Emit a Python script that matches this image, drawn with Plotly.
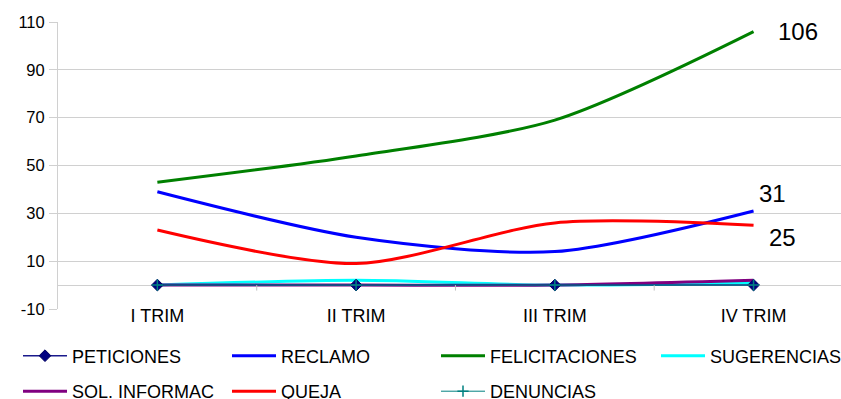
import plotly.graph_objects as go

# Quarterly counts by request type
trimestres = ["I TRIM", "II TRIM", "III TRIM", "IV TRIM"]
peticiones = [0, 0, 0, 0]
reclamo = [39, 20, 14, 31]
felicitaciones = [43, 54, 69, 106]
sugerencias = [0, 2, 0, 1]
sol_informac = [0, 0, 0, 2]
queja = [23, 9, 26, 25]
denuncias = [0, 0, 0, 0]

# value axis ticks
y_ticks = [-10, 10, 30, 50, 70, 90, 110]
y_tick_text = ["-10", "10", "30", "50", "70", "90", "110"]

FONT = "Liberation Sans"
GRID = "#d0d0d0"

fig = go.Figure()


def smooth_line(name, values, color, width, rank, legend):
    fig.add_trace(go.Scatter(
        x=trimestres, y=values, name=name, mode="lines",
        line=dict(color=color, width=width, shape="spline", smoothing=0.8),
        legendrank=rank, legend=legend, hoverinfo="x+y+name",
    ))


# thick smoothed series first, marker series on top
smooth_line("RECLAMO", reclamo, "#0000ff", 3, 2, "legend")
smooth_line("FELICITACIONES", felicitaciones, "#008000", 3, 3, "legend")
smooth_line("SUGERENCIAS", sugerencias, "#00ffff", 3, 4, "legend3")
smooth_line("SOL. INFORMAC", sol_informac, "#800080", 3, 5, "legend2")
smooth_line("QUEJA", queja, "#ff0000", 3, 6, "legend2")

fig.add_trace(go.Scatter(
    x=trimestres, y=peticiones, name="PETICIONES", mode="lines+markers",
    line=dict(color="#1a1a8c", width=1.5),
    marker=dict(symbol="diamond", size=9, color="#000080",
                line=dict(color="#000060", width=1)),
    legendrank=1, legend="legend",
))
fig.add_trace(go.Scatter(
    x=trimestres, y=denuncias, name="DENUNCIAS", mode="lines+markers",
    line=dict(color="#008080", width=1),
    marker=dict(symbol="cross-thin", size=8,
                line=dict(color="#008080", width=1.5)),
    legendrank=7, legend="legend2",
))

# end-of-series value labels
for vals, xs, ys in [(felicitaciones, 22, 0), (reclamo, 3, 17), (queja, 13, -12)]:
    fig.add_annotation(
        x=trimestres[-1], y=vals[-1], text=str(vals[-1]), showarrow=False,
        xanchor="left", yanchor="middle", xshift=xs, yshift=ys,
        font=dict(family=FONT, size=24, color="#000000"),
    )

# small category-boundary ticks hanging from the zero line
for b in [0.5, 1.5, 2.5]:
    fig.add_shape(type="line", xref="x", yref="y", x0=b, x1=b, y0=0, y1=-2.3,
                  line=dict(color="#c0c0c0", width=1))

legend_common = dict(
    orientation="h", xref="container", yref="container",
    xanchor="left", yanchor="middle",
    font=dict(family=FONT, size=18, color="#000000"),
    itemwidth=44, entrywidth=150, entrywidthmode="pixels",
    bgcolor="rgba(0,0,0,0)", borderwidth=0, traceorder="normal",
    itemclick=False, itemdoubleclick=False,
)

row1_y = (399 - 356) / 399
row2_y = (399 - 391.5) / 399

fig.update_layout(
    width=841, height=399,
    margin=dict(l=58, r=0, t=22, b=90, autoexpand=False),
    paper_bgcolor="#ffffff", plot_bgcolor="#ffffff",
    font=dict(family=FONT, size=16, color="#000000"),
    showlegend=True,
    legend=dict(x=18 / 841, y=row1_y, **legend_common),
    legend3=dict(x=656 / 841, y=row1_y, **legend_common),
    legend2=dict(x=18 / 841, y=row2_y, **legend_common),
    xaxis=dict(
        type="category", range=[-0.5, 3.44],
        showgrid=False, zeroline=False, showline=False, ticks="",
        ticklabelstandoff=-6,
        tickfont=dict(family=FONT, size=18, color="#000000"),
        fixedrange=True,
    ),
    yaxis=dict(
        range=[-10, 110], tickmode="array",
        tickvals=y_ticks, ticktext=y_tick_text,
        showgrid=True, gridcolor=GRID, gridwidth=1,
        zeroline=True, zerolinecolor=GRID, zerolinewidth=1,
        showline=True, linecolor=GRID, linewidth=1,
        ticks="outside", ticklen=8, tickcolor=GRID,
        ticklabelstandoff=1,
        tickfont=dict(family=FONT, size=16.5, color="#000000"),
        fixedrange=True,
    ),
)

fig.write_html("out.html")
